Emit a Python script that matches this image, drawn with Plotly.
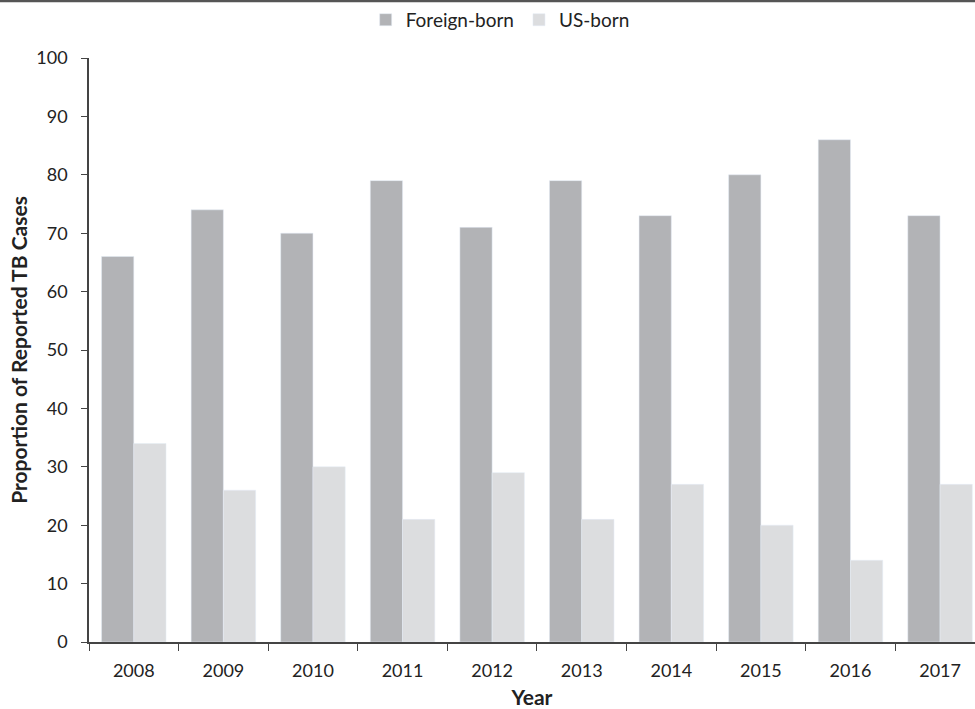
import plotly.graph_objects as go

years = ["2008", "2009", "2010", "2011", "2012", "2013", "2014", "2015", "2016", "2017"]
foreign_born = [66, 74, 70, 79, 71, 79, 73, 80, 86, 73]
us_born = [34, 26, 30, 21, 29, 21, 27, 20, 14, 27]

FONT = "Lato, 'Open Sans', sans-serif"
fig = go.Figure()
fig.add_trace(go.Bar(x=years, y=foreign_born, name="Foreign-born", marker_color="#b2b3b6"))
fig.add_trace(go.Bar(x=years, y=us_born, name="US-born", marker_color="#dcdddf"))

fig.update_layout(
    width=975, height=709,
    margin=dict(l=89, r=0, t=58, b=67, autoexpand=False),
    paper_bgcolor="white", plot_bgcolor="white",
    barmode="group", bargap=0.28, bargroupgap=0,
    font=dict(family=FONT, size=18, color="#222"),
    legend=dict(orientation="h", xref="container", x=0.513, xanchor="center",
                yref="container", y=0.972, yanchor="middle", bgcolor="rgba(0,0,0,0)",
                font=dict(size=19, color="#222"), itemwidth=30, traceorder="normal"),
    shapes=[dict(type="line", xref="paper", yref="paper", x0=-0.2, x1=1.1,
                 y0=(642 - 1) / 584, y1=(642 - 1) / 584,
                 line=dict(color="#555", width=2.5))],
)
fig.update_xaxes(
    type="category", range=[-0.5, 9.39], tickson="boundaries", automargin=False,
    showline=True, linecolor="#444", linewidth=1.5,
    ticks="outside", ticklen=7, tickcolor="#444", ticklabelstandoff=12,
    title=dict(text="<b>Year</b>", font=dict(size=21), standoff=12),
    showgrid=False,
)
fig.update_yaxes(
    range=[0, 100], dtick=10, showline=True, linecolor="#444", linewidth=1.5,
    automargin=False, ticklabelstandoff=10,
    ticks="outside", ticklen=6, tickcolor="#444", showgrid=False, zeroline=False,
    title=dict(text="<b>Proportion of Reported TB Cases</b>", font=dict(size=21), standoff=3),
)
fig.write_html("out.html", config={"displayModeBar": False},
               post_script="document.body.style.margin='0';document.body.style.overflow='hidden';")
